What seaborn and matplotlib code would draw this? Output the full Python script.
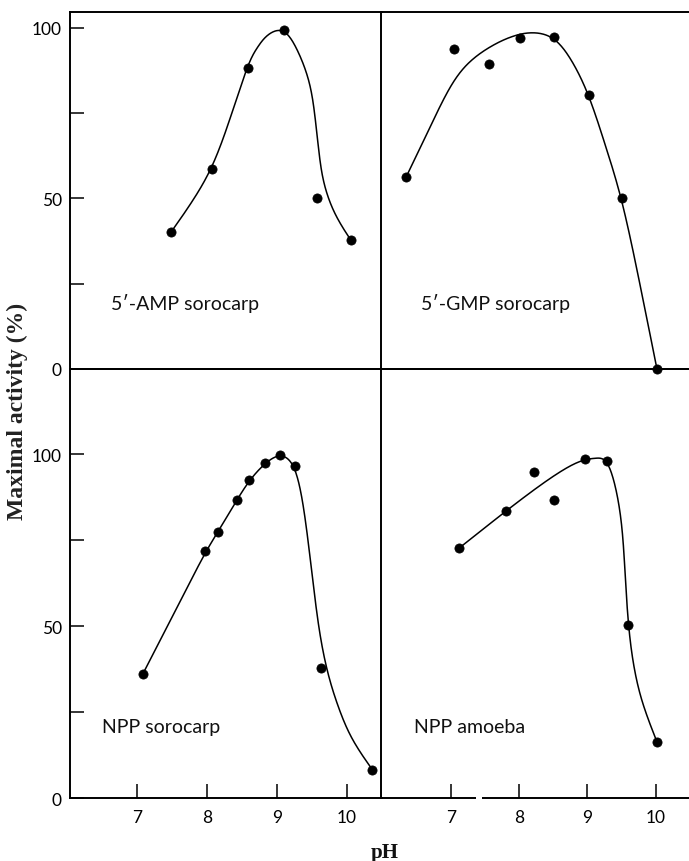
import numpy as np
import pandas as pd
import matplotlib
matplotlib.use("Agg")
import matplotlib.pyplot as plt
import seaborn as sns

sns.set_theme(style="white")
plt.rcParams["font.family"] = ["Lato", "DejaVu Sans"]

# ---- measured activities (pH, % of maximal activity) ----
amp_ph = [7.49, 8.08, 8.59, 9.10, 9.58, 10.06]
amp_act = [40.2, 58.7, 88.3, 99.3, 50.0, 37.8]

gmp_ph = [6.34, 7.04, 7.55, 8.01, 8.51, 9.03, 9.51, 10.02]
gmp_act = [56.2, 93.7, 89.5, 96.9, 97.3, 80.2, 50.0, 0.0]

npps_ph = [7.08, 7.98, 8.16, 8.43, 8.61, 8.83, 9.05, 9.26, 9.63, 10.37]
npps_act = [36.0, 71.7, 77.4, 86.7, 92.5, 97.4, 99.7, 96.6, 37.9, 8.3]

nppa_ph = [7.12, 7.80, 8.22, 8.51, 8.97, 9.29, 9.60, 10.02]
nppa_act = [72.7, 83.4, 94.7, 86.6, 98.5, 98.1, 50.4, 16.4]

# ---- hand-fitted curves (control points along each drawn line) ----
amp_fit_ph = [7.49, 7.78, 8.08, 8.33, 8.59, 8.72, 8.86, 9.10, 9.29, 9.48,
              9.55, 9.60, 9.66, 9.82, 10.06]
amp_fit_act = [40.2, 48.6, 58.7, 73.0, 89.8, 94.2, 98.2, 100.3, 94.2, 84.4,
               74.0, 64.0, 54.5, 45.3, 37.8]

gmp_fit_ph = [6.34, 6.64, 7.00, 7.29, 7.63, 7.90, 8.17, 8.51, 8.78, 9.03,
              9.27, 9.51, 9.77, 10.02]
gmp_fit_act = [56.2, 68.6, 84.0, 90.8, 95.2, 97.6, 98.9, 97.8, 90.5, 80.2,
               65.1, 50.0, 25.0, 0.0]

npps_fit_ph = [7.08, 7.53, 7.98, 8.16, 8.43, 8.61, 8.83, 9.05, 9.26, 9.39,
               9.50, 9.60, 9.72, 9.87, 10.06, 10.37]
npps_fit_act = [36.0, 53.8, 71.7, 77.4, 86.7, 92.5, 97.4, 100.4, 97.6, 85.0,
                66.0, 49.0, 36.6, 26.9, 17.2, 8.3]

nppa_fit_ph = [7.12, 7.46, 7.80, 8.36, 8.75, 8.97, 9.12, 9.29, 9.43, 9.52,
               9.56, 9.60, 9.66, 9.78, 10.02]
nppa_fit_act = [72.7, 78.0, 83.4, 91.8, 96.8, 98.5, 98.8, 99.0, 89.8, 78.0,
                62.0, 50.4, 40.0, 28.5, 16.4]

panel_labels = ["5′-AMP sorocarp", "5′-GMP sorocarp", "NPP sorocarp", "NPP amoeba"]
ph_ticks = [7, 8, 9, 10]
y_major = [0, 50, 100]
y_minor = [25, 75]


def smooth_curve(xk, yk, n=30):
    """Clamped uniform cubic B-spline over the control points."""
    P = np.column_stack([np.asarray(xk, float), np.asarray(yk, float)])
    P = np.vstack([P[0], P[0], P, P[-1], P[-1]])
    t = np.linspace(0, 1, n)[:, None]
    b0 = (1 - t) ** 3 / 6
    b1 = (3 * t ** 3 - 6 * t ** 2 + 4) / 6
    b2 = (-3 * t ** 3 + 3 * t ** 2 + 3 * t + 1) / 6
    b3 = t ** 3 / 6
    pieces = []
    for i in range(len(P) - 3):
        C = b0 * P[i] + b1 * P[i + 1] + b2 * P[i + 2] + b3 * P[i + 3]
        pieces.append(C if i == 0 else C[1:])
    C = np.vstack(pieces)
    return pd.DataFrame({"pH": C[:, 0], "act": C[:, 1]})


W, H = 689, 862
fig = plt.figure(figsize=(W / 100, H / 100), dpi=100)

xl, xm, xr = 70 / W, 381.5 / W, 1.0
y_bot, y_mid, y_top = 1 - 799.3 / H, 1 - 370 / H, 1 - 13 / H

ax_tl = fig.add_axes([xl, y_mid, xm - xl, y_top - y_mid])
ax_tr = fig.add_axes([xm, y_mid, xr - xm, y_top - y_mid])
ax_bl = fig.add_axes([xl, y_bot, xm - xl, y_mid - y_bot])
ax_br = fig.add_axes([xm, y_bot, xr - xm, y_mid - y_bot])

panels = [
    (ax_tl, amp_ph, amp_act, amp_fit_ph, amp_fit_act, (6.04, 10.50), (0, 104.6), (6.62, 19.5)),
    (ax_tr, gmp_ph, gmp_act, gmp_fit_ph, gmp_fit_act, (5.98, 10.49), (0, 104.6), (6.56, 19.5)),
    (ax_bl, npps_ph, npps_act, npps_fit_ph, npps_fit_act, (6.04, 10.50), (0, 124.7), (6.50, 21.0)),
    (ax_br, nppa_ph, nppa_act, nppa_fit_ph, nppa_fit_act, (5.98, 10.49), (0, 124.7), (6.45, 21.0)),
]

for (ax, px, py, fx, fy, xlim, ylim, lab_pos), label in zip(panels, panel_labels):
    curve = smooth_curve(fx, fy)
    sns.lineplot(data=curve, x="pH", y="act", ax=ax, sort=False, estimator=None,
                 color="black", linewidth=1.1, zorder=3)
    pts = pd.DataFrame({"pH": px, "act": py})
    sns.scatterplot(data=pts, x="pH", y="act", ax=ax, color="black", s=44,
                    edgecolor="black", linewidth=0.5, zorder=4, clip_on=False)
    ax.set_xlim(*xlim)
    ax.set_ylim(*ylim)
    ax.set_xlabel("")
    ax.set_ylabel("")
    ax.set_facecolor("none")
    for side in ["left", "bottom", "top", "right"]:
        ax.spines[side].set_color("black")
        ax.spines[side].set_linewidth(1.4)
    ax.text(lab_pos[0], lab_pos[1], label, fontsize=14, ha="left", va="center",
            color="#111111", family=["Lato", "DejaVu Sans"])

# right-hand panels share the central line; nothing on the far edge
for ax in (ax_tr, ax_br):
    ax.spines["right"].set_visible(False)
    ax.set_yticks([])
for ax in (ax_tl, ax_bl):
    ax.spines["right"].set_visible(False)

# y axes on the left panels, ticks pointing inwards
for ax in (ax_tl, ax_bl):
    ax.set_yticks(y_major)
    ax.set_yticklabels([str(v) for v in y_major])
    ax.set_yticks(y_minor, minor=True)
    ax.tick_params(axis="y", which="both", direction="in", length=10, width=1.1,
                   labelsize=12.5, pad=6, left=True, colors="black")

# x axes only along the bottom row
for ax in (ax_tl, ax_tr):
    ax.set_xticks([])
for ax in (ax_bl, ax_br):
    ax.set_xticks(ph_ticks)
    ax.set_xticklabels([str(v) for v in ph_ticks])
    ax.tick_params(axis="x", which="both", direction="in", length=10, width=1.1,
                   labelsize=12.5, pad=8, bottom=True, colors="black")

# break in the pH axis of the amoeba panel
ax_br.axvspan(7.37, 7.46, ymin=-0.012, ymax=0.012, color="white", zorder=6,
              clip_on=False, linewidth=0)

fig.text(17 / W, 1 - 411 / H, "Maximal activity (%)", rotation=90, ha="center",
         va="center", fontsize=17, fontweight="bold",
         family=["Liberation Serif", "DejaVu Serif"], color="#222222")
fig.text(385 / W, 1 - 853 / H, "pH", ha="center", va="center", fontsize=15,
         fontweight="bold", family=["Liberation Serif", "DejaVu Serif"], color="#111111")

fig.savefig("out.png", dpi=100, facecolor="white")
